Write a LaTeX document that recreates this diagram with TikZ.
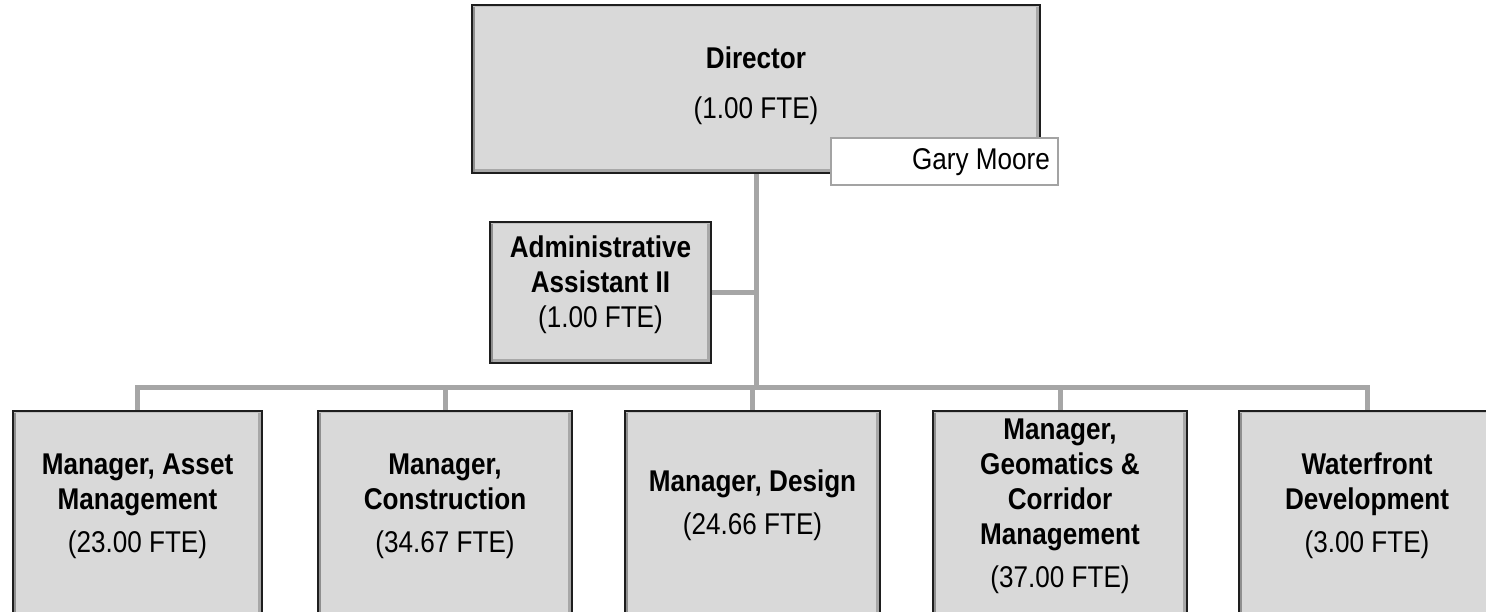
\documentclass[tikz,border=0pt]{standalone}
\usepackage{fontspec}
\setmainfont{Liberation Sans}[FakeStretch=0.87]
\usetikzlibrary{backgrounds}
\definecolor{boxfill}{HTML}{D9D9D9}
\definecolor{boxedge}{HTML}{1E1E1E}
\definecolor{bevelgray}{HTML}{A8A8A8}
\definecolor{linegray}{HTML}{A6A6A6}
\definecolor{nameedge}{HTML}{A3A3A3}
\tikzset{
  orgbox/.style={draw=boxedge, line width=1.5pt, fill=boxfill, inner sep=0pt,
    path picture={
      \fill[bevelgray] ([xshift=-4.5pt]path picture bounding box.north east) rectangle (path picture bounding box.south east);
      \fill[bevelgray] (path picture bounding box.south west) rectangle ([yshift=4pt]path picture bounding box.south east);
      \fill[bevelgray!85!black] (path picture bounding box.north west) rectangle ([xshift=2.5pt]path picture bounding box.south west);
      \fill[bevelgray!70!white] (path picture bounding box.north west) rectangle ([yshift=-2pt]path picture bounding box.north east);
    }},
  namebox/.style={draw=nameedge, line width=1.5pt, fill=white, inner sep=0pt},
  txt/.style={align=center, font=\fontsize{30}{35}\selectfont, inner sep=0pt, text=black},
  link/.style={draw=linegray, line width=5pt}
}
\begin{document}
\begin{tikzpicture}[x=1pt,y=-1pt]
\useasboundingbox (0,0) rectangle (1486,612);
\clip (0,0) rectangle (1486,612);
\coordinate (busc) at (756,387);
% boxes
\node[orgbox, minimum width=568pt, minimum height=168pt] (dir) at (756,89) {};
\node[orgbox, minimum width=221pt, minimum height=141pt] (adm) at (600.5,292.5) {};
\node[orgbox, minimum width=249pt, minimum height=209pt] (b1) at (137.5,515.5) {};
\node[orgbox, minimum width=254pt, minimum height=209pt] (b2) at (445,515.5) {};
\node[orgbox, minimum width=255pt, minimum height=209pt] (b3) at (752.5,515.5) {};
\node[orgbox, minimum width=254pt, minimum height=209pt] (b4) at (1060,515.5) {};
\node[orgbox, minimum width=256pt, minimum height=209pt] (b5) at (1367,515.5) {};
\node[namebox, minimum width=227pt, minimum height=47pt] (gm) at (944.5,161.5) {};
% texts
\node[txt] (dirt) at (756,85.5) {\bfseries Director\\[15pt](1.00 FTE)};
\node[txt, anchor=east] (gmt) at (1050,162) {Gary Moore};
\node[txt] (admt) at (600.5,285) {\bfseries Administrative\\\bfseries Assistant II\\(1.00 FTE)};
\node[txt] (b1t) at (137.5,506) {\bfseries Manager, Asset\\\bfseries Management\\[8pt](23.00 FTE)};
\node[txt] (b2t) at (445,506) {\bfseries Manager,\\\bfseries Construction\\[8pt](34.67 FTE)};
\node[txt] (b3t) at (752.5,505) {\bfseries Manager, Design\\[8pt](24.66 FTE)};
\node[txt] (b4t) at (1060,506) {\bfseries Manager,\\\bfseries Geomatics \&\\\bfseries Corridor\\\bfseries Management\\[8pt](37.00 FTE)};
\node[txt] (b5t) at (1367,506) {\bfseries Waterfront\\\bfseries Development\\[8pt](3.00 FTE)};
% connectors
\begin{scope}[on background layer]
\draw[link] (dir.south) -- (busc);
\draw[link] (adm.east) -- (adm.east -| dir.south);
\draw[link] (b1.north) -- (b1.north |- busc) -- (b5.north |- busc) -- (b5.north);
\draw[link] (b2.north) -- (b2.north |- busc);
\draw[link] (b3.north) -- (b3.north |- busc);
\draw[link] (b4.north) -- (b4.north |- busc);
\end{scope}
\end{tikzpicture}
\end{document}
